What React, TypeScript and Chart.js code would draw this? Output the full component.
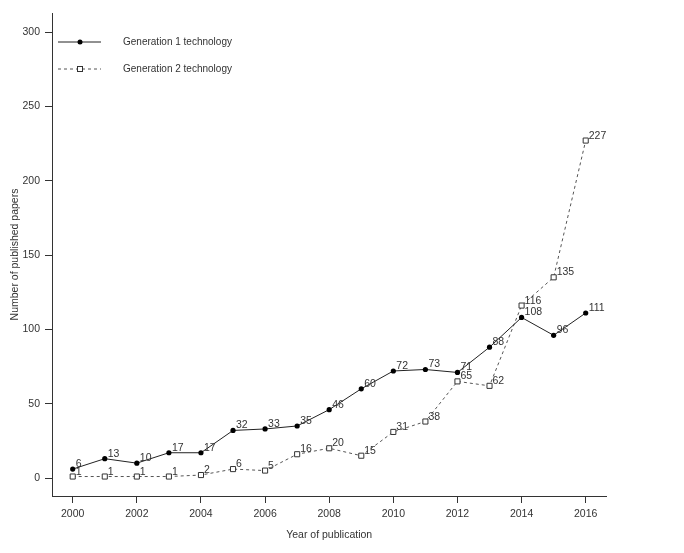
import { useRef, useEffect } from "react"
import { Chart, registerables } from "chart.js"

Chart.register(...registerables)

const years = [2000, 2001, 2002, 2003, 2004, 2005, 2006, 2007, 2008, 2009, 2010, 2011, 2012, 2013, 2014, 2015, 2016]
const gen1 = [6, 13, 10, 17, 17, 32, 33, 35, 46, 60, 72, 73, 71, 88, 108, 96, 111]
const gen2 = [1, 1, 1, 1, 2, 6, 5, 16, 20, 15, 31, 38, 65, 62, 116, 135, 227]
const xTicks = [2000, 2002, 2004, 2006, 2008, 2010, 2012, 2014, 2016]
const yTicks = [0, 50, 100, 150, 200, 250, 300]
const seriesNames = ["Generation 1 technology", "Generation 2 technology"]

const FONT = "'Liberation Sans', Arial, sans-serif"
const INK = "#333"

const labelPlugin = {
  id: "pointLabels",
  afterDatasetsDraw(chart: any) {
    const ctx = chart.ctx
    ctx.save()
    ctx.font = `10.5px ${FONT}`
    ctx.fillStyle = INK
    ctx.textAlign = "left"
    ctx.textBaseline = "alphabetic"
    chart.data.datasets.forEach((ds: any, i: number) => {
      const meta = chart.getDatasetMeta(i)
      meta.data.forEach((pt: any, j: number) => {
        ctx.fillText(String(ds.data[j].y), pt.x + 3, pt.y - 2)
      })
    })
    ctx.restore()
  },
}

const decorPlugin = {
  id: "decor",
  afterDraw(chart: any) {
    const ctx = chart.ctx
    const { top, bottom } = chart.chartArea
    const xs = chart.scales.x
    ctx.save()
    // legend, top left inside the plot
    const rows = [
      { y: 42, dash: [], fill: true },
      { y: 69, dash: [3, 3], fill: false },
    ]
    rows.forEach((r, i) => {
      ctx.strokeStyle = i === 0 ? "#222" : "#555"
      ctx.lineWidth = 1
      ctx.setLineDash(r.dash)
      ctx.beginPath()
      ctx.moveTo(58, r.y)
      ctx.lineTo(101, r.y)
      ctx.stroke()
      ctx.setLineDash([])
      if (r.fill) {
        ctx.fillStyle = "#000"
        ctx.beginPath()
        ctx.arc(80, r.y, 2.5, 0, Math.PI * 2)
        ctx.fill()
      } else {
        ctx.fillStyle = "#fff"
        ctx.strokeStyle = "#333"
        ctx.fillRect(77.5, r.y - 2.5, 5, 5)
        ctx.strokeRect(77.5, r.y - 2.5, 5, 5)
      }
      ctx.fillStyle = INK
      ctx.font = `10px ${FONT}`
      ctx.textAlign = "left"
      ctx.textBaseline = "middle"
      ctx.fillText(seriesNames[i], 123, r.y)
    })
    // axis titles
    ctx.font = `10.5px ${FONT}`
    ctx.fillStyle = INK
    ctx.textAlign = "center"
    ctx.textBaseline = "middle"
    ctx.fillText("Year of publication", xs.getPixelForValue(2008), 535)
    ctx.translate(15, (top + bottom) / 2)
    ctx.rotate(-Math.PI / 2)
    ctx.fillText("Number of published papers", 0, 0)
    ctx.restore()
  },
}

export default function App() {
  const chartRef = useRef<HTMLCanvasElement>(null)

  useEffect(() => {
    document.body.style.margin = "0"
    if (!chartRef.current) return
    const ctx = chartRef.current.getContext("2d")
    if (!ctx) return

    const myChart = new Chart(ctx, {
      type: "line",
      data: {
        datasets: [
          {
            label: seriesNames[0],
            data: years.map((y, i) => ({ x: y, y: gen1[i] })),
            borderColor: "#222",
            borderWidth: 1,
            pointStyle: "circle",
            pointRadius: 2.6,
            pointBackgroundColor: "#000",
            pointBorderColor: "#000",
            pointBorderWidth: 0,
            tension: 0,
          },
          {
            label: seriesNames[1],
            data: years.map((y, i) => ({ x: y, y: gen2[i] })),
            borderColor: "#555",
            borderWidth: 1,
            borderDash: [3, 3],
            pointStyle: "rect",
            pointRadius: 3.6,
            pointBackgroundColor: "#fff",
            pointBorderColor: "#333",
            pointBorderWidth: 1,
            tension: 0,
          },
        ],
      },
      options: {
        animation: false,
        responsive: false,
        maintainAspectRatio: false,
        layout: { padding: { top: 13, right: 78, left: 0, bottom: 0 } },
        plugins: {
          legend: { display: false },
          tooltip: { enabled: false },
        },
        scales: {
          x: {
            type: "linear",
            min: 1999.354,
            max: 2016.633,
            afterBuildTicks: (scale: any) => {
              scale.ticks = xTicks.map((v) => ({ value: v }))
            },
            afterFit: (scale: any) => {
              scale.height = 57
            },
            grid: { drawOnChartArea: false, drawTicks: true, tickLength: 7, color: INK },
            border: { display: true, color: INK, width: 1 },
            ticks: {
              color: INK,
              font: { family: FONT, size: 10.5 },
              padding: 5,
              maxRotation: 0,
              autoSkip: false,
              callback: (v: any) => String(v),
            },
          },
          y: {
            min: -12.1,
            max: 312.8,
            afterBuildTicks: (scale: any) => {
              scale.ticks = yTicks.map((v) => ({ value: v }))
            },
            afterFit: (scale: any) => {
              scale.width = 52
            },
            grid: { drawOnChartArea: false, drawTicks: true, tickLength: 7, color: INK },
            border: { display: true, color: INK, width: 1 },
            ticks: {
              color: INK,
              font: { family: FONT, size: 10.5 },
              padding: 5,
              autoSkip: false,
            },
          },
        },
      },
      plugins: [labelPlugin, decorPlugin],
    })

    return () => {
      myChart.destroy()
    }
  }, [])

  return (
    <div style={{ width: 684, height: 553, background: "#fff" }}>
      <canvas ref={chartRef} width={684} height={553} style={{ width: 684, height: 553 }} />
    </div>
  )
}
